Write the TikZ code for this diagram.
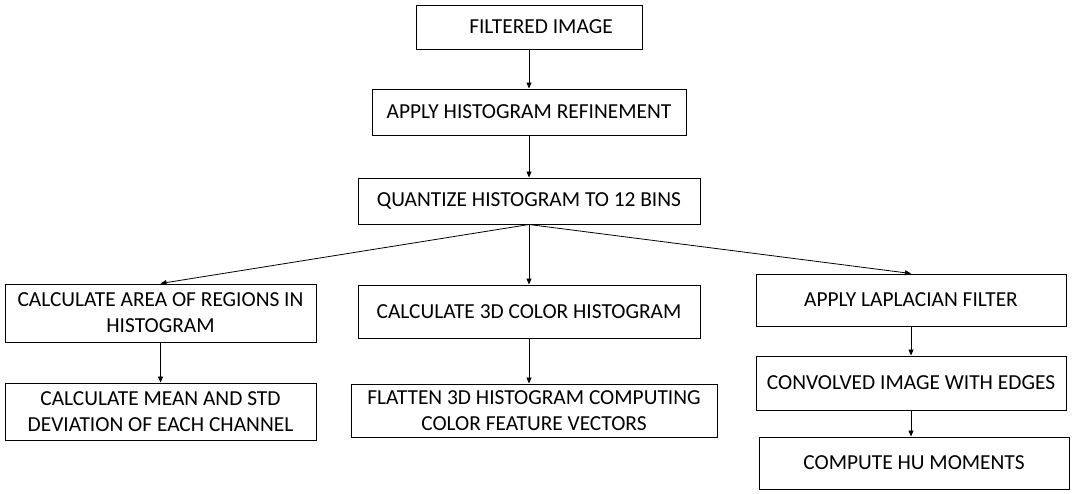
\documentclass[tikz,border=0pt]{standalone}
\usepackage{fontspec}
\setmainfont{Carlito}
\usetikzlibrary{arrows.meta}
\begin{document}
\begin{tikzpicture}[x=1pt,y=-1pt,
  box/.style={draw=black,line width=1pt,inner sep=0pt,align=center,
    font=\fontsize{21.4}{26}\selectfont},
  arr/.style={draw=black,line width=0.8pt,-{Triangle[length=6pt,width=5pt]}}]
\useasboundingbox[fill=white] (0,0) rectangle (1073,493);
\node[box,minimum width=226pt,minimum height=44pt] (b1) at (529,27) {\hspace*{24pt}FILTERED IMAGE};
\node[box,minimum width=314pt,minimum height=46pt] (b2) at (529,112) {APPLY HISTOGRAM REFINEMENT};
\node[box,minimum width=342pt,minimum height=46pt] (b3) at (529,201) {QUANTIZE HISTOGRAM TO 12 BINS};
\node[box,minimum width=311pt,minimum height=58pt] (b4) at (160.5,313) {CALCULATE AREA OF REGIONS IN\\HISTOGRAM};
\node[box,minimum width=342pt,minimum height=53pt] (b5) at (529,311.5) {CALCULATE 3D COLOR HISTOGRAM};
\node[box,minimum width=310pt,minimum height=52pt] (b6) at (911,300) {APPLY LAPLACIAN FILTER};
\node[box,minimum width=311pt,minimum height=57pt] (b7) at (160.5,411.5) {CALCULATE MEAN AND STD\\DEVIATION OF EACH CHANNEL};
\node[box,minimum width=366pt,minimum height=53pt] (b8) at (534,410.5) {FLATTEN 3D HISTOGRAM COMPUTING\\COLOR FEATURE VECTORS};
\node[box,minimum width=310pt,minimum height=54pt] (b9) at (911,383) {CONVOLVED IMAGE WITH EDGES};
\node[box,minimum width=310pt,minimum height=52pt] (b10) at (914,463) {COMPUTE HU MOMENTS};
\draw[arr] (b1.south) -- (b2.north);
\draw[arr] (b2.south) -- (b3.north);
\draw[arr] (b3.south) -- (b4.north);
\draw[arr] (b3.south) -- (b5.north);
\draw[arr] (b3.south) -- (b6.north);
\draw[arr] (b4.south) -- (b7.north);
\draw[arr] (b5.south) -- (b5.south |- b8.north);
\draw[arr] (b6.south) -- (b9.north);
\draw[arr] (b9.south) -- (b9.south |- b10.north);
\end{tikzpicture}
\end{document}
